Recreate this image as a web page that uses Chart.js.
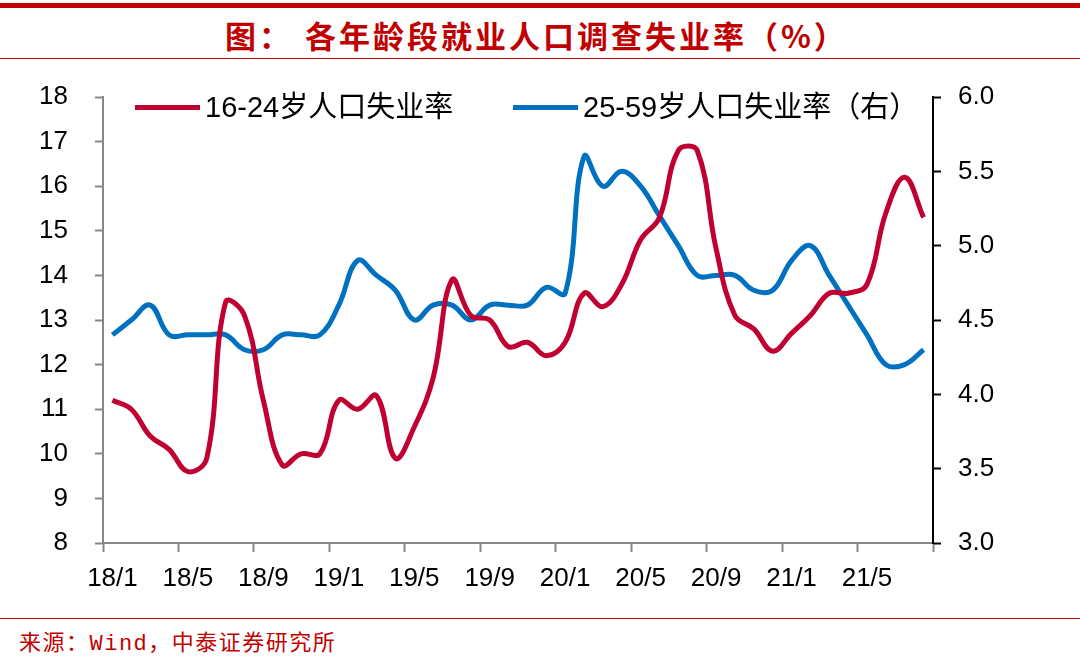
<!DOCTYPE html>
<html lang="zh-CN">
<head>
<meta charset="utf-8">
<title>各年龄段就业人口调查失业率</title>
<script src="https://cdn.jsdelivr.net/npm/chart.js@4.4.1/dist/chart.umd.min.js"></script>
<style>
  html, body { margin: 0; padding: 0; background: #fff; }
  body {
    position: relative;
    width: 1080px;
    height: 671px;
    overflow: hidden;
    font-family: "Liberation Sans", "Noto Sans CJK SC", sans-serif;
  }
  .rule-thick { position: absolute; left: 0; top: 3px; width: 1080px; height: 5px; background: #c00000; }
  .rule-thin { position: absolute; left: 0; width: 1080px; height: 1px; background: #c00000; }
  .title {
    position: absolute;
    top: 17px;
    color: #c00000;
    font: bold 31px/36px "Noto Sans CJK SC", sans-serif;
    letter-spacing: 3px;
    white-space: pre;
  }
  #chart { position: absolute; left: 0; top: 60px; }
  #legend { position: absolute; left: 0; top: 0; }
  .legend-item {
    position: absolute;
    display: flex;
    align-items: center;
    font-size: 29px;
    line-height: 32px;
    color: #000;
    white-space: pre;
  }
  .legend-swatch { width: 65px; height: 5px; margin-right: 5px; }
  .source {
    position: absolute;
    left: 19px;
    top: 632px;
    color: #c00000;
    font: 22px/26px "Liberation Mono", "Noto Sans CJK SC", monospace;
    letter-spacing: 1.5px;
  }
</style>
</head>
<body>
<div class="rule-thick"></div>
<div class="title" style="left: 225px;">图：</div>
<div class="title" style="left: 305px;">各年龄段就业人口调查失业率（%）</div>
<div class="rule-thin" style="top: 58px;"></div>

<canvas id="chart" width="1080" height="555"></canvas>
<div id="legend"></div>

<div class="rule-thin" style="top: 618px;"></div>
<div class="source">来源：Wind，中泰证券研究所</div>

<script>
const MONTH_LABELS = [
  "18/1", "18/2", "18/3", "18/4", "18/5", "18/6", "18/7", "18/8", "18/9", "18/10", "18/11", "18/12",
  "19/1", "19/2", "19/3", "19/4", "19/5", "19/6", "19/7", "19/8", "19/9", "19/10", "19/11", "19/12",
  "20/1", "20/2", "20/3", "20/4", "20/5", "20/6", "20/7", "20/8", "20/9", "20/10", "20/11", "20/12",
  "21/1", "21/2", "21/3", "21/4", "21/5", "21/6", "21/7", "21/8",
];

// 16-24岁, 左轴
const YOUTH_RATE = [
  11.2, 11.0, 10.4, 10.1, 9.6, 9.9, 13.4, 13.1, 11.2, 9.75, 10.0, 10.0,
  11.2, 11.0, 11.3, 9.9, 10.6, 11.7, 13.9, 13.1, 13.0, 12.4, 12.5, 12.2,
  12.5, 13.6, 13.3, 13.8, 14.8, 15.3, 16.8, 16.8, 14.6, 13.1, 12.8, 12.3,
  12.7, 13.1, 13.6, 13.6, 13.8, 15.4, 16.2, 15.3,
];

// 25-59岁, 右轴
const PRIME_AGE_RATE = [
  4.4, 4.5, 4.6, 4.4, 4.4, 4.4, 4.4, 4.3, 4.3, 4.4, 4.4, 4.4,
  4.6, 4.9, 4.8, 4.7, 4.5, 4.6, 4.6, 4.5, 4.6, 4.6, 4.6, 4.72,
  4.68, 5.6, 5.4, 5.5, 5.4, 5.2, 5.0, 4.8, 4.8, 4.8, 4.7, 4.7,
  4.9, 5.0, 4.8, 4.6, 4.4, 4.2, 4.2, 4.3,
];

const SERIES_NAMES = ["16-24岁人口失业率", "25-59岁人口失业率（右）"];
const SERIES_COLORS = ["#c00030", "#0070c0"];
const LEGEND_SPOTS = [{ left: 135, top: 91 }, { left: 513, top: 91 }];

const LEFT_AXIS = { min: 8, max: 18, step: 1 };
const RIGHT_AXIS = { min: 3, max: 6, step: 0.5 };
const LABEL_EVERY = 4;

const AXIS_GREY = "#868686";
const TICK_FONT = { family: "Liberation Sans", size: 26 };

function renderLegend() {
  const legendElement = document.getElementById("legend");
  legendElement.innerHTML = SERIES_NAMES.map((name, i) => `
    <div class="legend-item" style="left:${LEGEND_SPOTS[i].left}px; top:${LEGEND_SPOTS[i].top}px;">
      <span class="legend-swatch" style="background:${SERIES_COLORS[i]}"></span><span>${name}</span>
    </div>
  `).join("");
}

// the extra closing grid line has no tick index, keep it too
function isLabelledTick(context) {
  return context.index === undefined || context.index % LABEL_EVERY === 0;
}

// fixed axis width; drop the tick padding chart.js adds above/below a y axis
function fixYAxis(width) {
  return (scale) => {
    scale.width = width;
    scale.paddingTop = 0;
    scale.paddingBottom = 0;
  };
}

function buildChart() {
  const canvas = document.getElementById("chart");
  return new Chart(canvas, {
    type: "line",
    data: {
      labels: MONTH_LABELS,
      datasets: [
        {
          label: SERIES_NAMES[0],
          data: YOUTH_RATE,
          yAxisID: "yLeft",
          borderColor: SERIES_COLORS[0],
          backgroundColor: SERIES_COLORS[0],
          borderWidth: 5,
          pointRadius: 0,
          tension: 0.4,
        },
        {
          label: SERIES_NAMES[1],
          data: PRIME_AGE_RATE,
          yAxisID: "yRight",
          borderColor: SERIES_COLORS[1],
          backgroundColor: SERIES_COLORS[1],
          borderWidth: 5,
          pointRadius: 0,
          tension: 0.4,
        },
      ],
    },
    options: {
      responsive: false,
      animation: false,
      layout: { padding: { top: 37, left: 0, right: 0, bottom: 0 } },
      plugins: {
        legend: { display: false },
        tooltip: { enabled: false },
      },
      scales: {
        x: {
          type: "category",
          offset: true,
          grid: {
            offset: true,
            drawOnChartArea: false,
            tickLength: 9,
            tickWidth: 2,
            tickColor: (context) => (isLabelledTick(context) ? AXIS_GREY : "rgba(0,0,0,0)"),
          },
          border: { color: AXIS_GREY, width: 2 },
          ticks: {
            autoSkip: false,
            maxRotation: 0,
            minRotation: 0,
            padding: 11,
            color: "#000",
            font: TICK_FONT,
            callback(value, index) {
              return index % LABEL_EVERY === 0 ? this.getLabelForValue(value) : "";
            },
          },
          afterFit(scale) {
            scale.height = 72;
          },
        },
        yLeft: {
          position: "left",
          min: LEFT_AXIS.min,
          max: LEFT_AXIS.max,
          grid: { drawOnChartArea: false, tickLength: 8, tickWidth: 2, tickColor: AXIS_GREY },
          border: { color: AXIS_GREY, width: 2 },
          ticks: { stepSize: LEFT_AXIS.step, padding: 27, color: "#000", font: TICK_FONT },
          afterFit: fixYAxis(103),
        },
        yRight: {
          position: "right",
          min: RIGHT_AXIS.min,
          max: RIGHT_AXIS.max,
          grid: { drawOnChartArea: false, tickLength: 8, tickWidth: 2, tickColor: "#000" },
          border: { color: "#000", width: 2 },
          ticks: {
            stepSize: RIGHT_AXIS.step,
            padding: 17,
            color: "#000",
            font: TICK_FONT,
            callback(value) {
              return value.toFixed(1);
            },
          },
          afterFit: fixYAxis(147),
        },
      },
    },
  });
}

renderLegend();
buildChart();
</script>
</body>
</html>
